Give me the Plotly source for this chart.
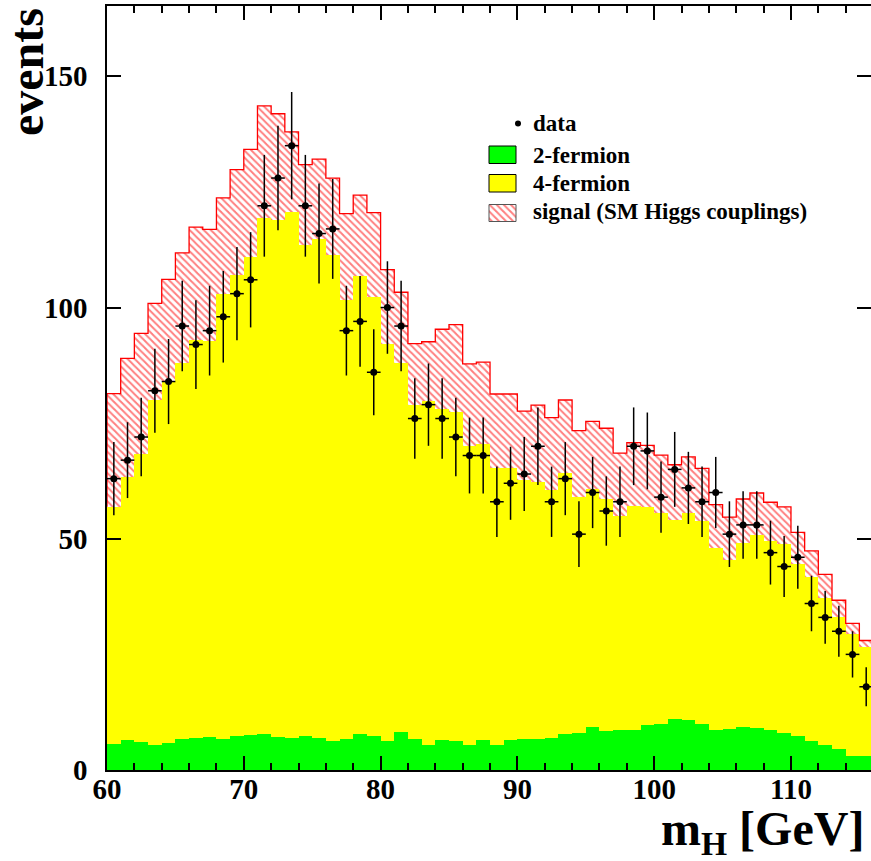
import numpy as np
import plotly.graph_objects as go

# ---------------- data ----------------
bin_low = list(range(60, 116))          # 1 GeV bins, lower edges [GeV]

two_fermion = [5.6, 6.5, 6.1, 5.4, 5.8, 6.7, 6.9, 7.1, 6.7, 7.3,
               7.6, 7.8, 7.1, 6.9, 7.3, 6.9, 6.3, 6.7, 7.8, 7.3,
               6.3, 8.2, 6.7, 5.5, 6.5, 6.3, 5.5, 6.5, 5.5, 6.5,
               6.7, 6.7, 6.9, 7.8, 8.0, 9.3, 8.4, 8.6, 8.6, 9.7,
               10.0, 11.1, 10.8, 9.9, 8.6, 8.9, 9.3, 9.1, 8.6, 8.0,
               7.3, 6.3, 5.4, 4.5, 3.0, 3.0]

# cumulative top of 2-fermion + 4-fermion
background_top = [56.9, 63.4, 68.3, 80.0, 83.9, 88.1, 93.0, 92.8, 103.0, 107.0,
                  111.0, 119.3, 118.9, 120.6, 113.5, 114.8, 111.3, 101.7, 106.8, 102.2,
                  92.2, 87.9, 79.0, 79.8, 78.0, 77.5, 70.0, 70.5, 65.4, 65.4,
                  62.7, 62.3, 60.5, 64.3, 59.1, 60.7, 58.7, 54.9, 57.1, 56.9,
                  55.5, 54.0, 55.5, 53.8, 48.1, 45.4, 49.0, 50.8, 49.6, 48.9,
                  44.5, 41.8, 37.3, 33.0, 29.5, 26.7]

# cumulative top of background + signal
total_top = [81.4, 89.0, 94.4, 100.9, 106.1, 111.8, 117.4, 116.9, 123.7, 129.8,
             134.2, 143.6, 141.9, 138.0, 130.9, 132.1, 128.0, 120.3, 124.3, 120.5,
             108.2, 103.3, 92.2, 92.6, 95.3, 96.3, 87.8, 88.2, 81.3, 81.3,
             77.6, 78.9, 76.2, 80.0, 73.4, 75.4, 73.9, 68.5, 70.8, 70.2,
             68.1, 66.0, 67.7, 65.2, 57.4, 54.7, 58.6, 59.9, 57.9, 56.9,
             51.4, 47.4, 42.3, 36.7, 31.7, 28.0]

data_events = [63, 67, 72, 82, 84, 96, 92, 95, 98, 103,
               106, 122, 128, 135, 122, 116, 117, 95, 97, 86,
               100, 96, 76, 79, 76, 72, 68, 68, 58, 62,
               64, 70, 58, 63, 51, 60, 56, 58, 70, 69,
               59, 65, 61, 58, 60, 51, 53, 53, 47, 44,
               46, 36, 33, 30, 25, 18]

data_err = [7.9, 8.2, 8.5, 9.1, 9.2, 9.8, 9.6, 9.7, 9.9, 10.1,
            10.3, 11.0, 11.3, 11.6, 11.0, 10.8, 10.8, 9.7, 9.8, 9.3,
            10.0, 9.8, 8.7, 8.9, 8.7, 8.5, 8.2, 8.2, 7.6, 7.9,
            8.0, 8.4, 7.6, 7.9, 7.1, 7.7, 7.5, 7.6, 8.4, 8.3,
            7.7, 8.1, 7.8, 7.6, 7.7, 7.1, 7.3, 7.3, 6.9, 6.6,
            6.8, 6.0, 5.7, 5.5, 5.0, 4.2]

x_tick_vals = [60, 70, 80, 90, 100, 110]
y_tick_vals = [0, 50, 100, 150]
legend_labels = ["data", "2-fermion", "4-fermion", "signal (SM Higgs couplings)"]

# ---------------- derived ----------------
lo = np.array(bin_low, dtype=float)
centers = lo + 0.5
two_f = np.array(two_fermion)
bkg = np.array(background_top)
tot = np.array(total_top)
four_f = bkg - two_f
signal = tot - bkg

GREEN = "#00ff00"
YELLOW = "#ffff00"
RED = "#ff0000"
FONT = "Liberation Serif"
HATCH = dict(shape="\\", fgcolor=RED, bgcolor="white", size=5, solidity=0.4)

# plot area in figure pixels
L, R, T, B = 107, 871, 6, 770
def px_to_paper(px, py):
    return (px - L) / (R - L), (B - py) / (B - T)

fig = go.Figure()

fig.add_trace(go.Bar(x=centers, y=two_f, width=1.0, base=0,
                     marker=dict(color=GREEN, line=dict(width=0)),
                     showlegend=False, hoverinfo="skip"))
fig.add_trace(go.Bar(x=centers, y=four_f, width=1.0, base=two_f,
                     marker=dict(color=YELLOW, line=dict(width=0)),
                     showlegend=False, hoverinfo="skip"))
fig.add_trace(go.Bar(x=centers, y=signal, width=1.0, base=bkg,
                     marker=dict(color="white", line=dict(width=0), pattern=HATCH),
                     showlegend=False, hoverinfo="skip"))

# red outline of the stacked signal histogram
edges = list(lo) + [lo[-1] + 1.0]
step_x = [edges[0]] + edges
step_y = [bkg[0]] + list(tot) + [tot[-1]]
fig.add_trace(go.Scatter(x=step_x, y=step_y, mode="lines",
                         line=dict(color=RED, width=1.3, shape="hv"),
                         showlegend=False, hoverinfo="skip"))

# data points
fig.add_trace(go.Scatter(x=centers, y=data_events, mode="markers",
                         marker=dict(color="black", size=7),
                         error_y=dict(type="data", array=data_err, color="black",
                                      thickness=1.5, width=0),
                         error_x=dict(type="constant", value=0.5, color="black",
                                      thickness=1.5, width=0),
                         showlegend=False, hoverinfo="skip"))

# dummy trace so the right-hand tick axis exists
fig.add_trace(go.Scatter(x=[None], y=[None], yaxis="y2", showlegend=False,
                         hoverinfo="skip"))

# ---------------- legend drawn in pixel space (overlay axes) ----------------
def box(x0, x1, y0, y1):
    return [x0, x1, x1, x0, x0], [y0, y0, y1, y1, y0]

bx, by = box(489, 516, 146, 163.5)
fig.add_trace(go.Scatter(x=bx, y=by, xaxis="x3", yaxis="y3", mode="lines",
                         fill="toself", fillcolor=GREEN,
                         line=dict(color="black", width=1),
                         showlegend=False, hoverinfo="skip"))
bx, by = box(489, 516, 174.5, 192)
fig.add_trace(go.Scatter(x=bx, y=by, xaxis="x3", yaxis="y3", mode="lines",
                         fill="toself", fillcolor=YELLOW,
                         line=dict(color="black", width=1),
                         showlegend=False, hoverinfo="skip"))
bx, by = box(489, 516, 204.5, 221.5)
fig.add_trace(go.Scatter(x=bx, y=by, xaxis="x3", yaxis="y3", mode="lines",
                         fill="toself", fillcolor="white", fillpattern=HATCH,
                         line=dict(color="#555555", width=1),
                         showlegend=False, hoverinfo="skip"))
fig.add_trace(go.Scatter(x=[518], y=[123.5], xaxis="x3", yaxis="y3", mode="markers",
                         marker=dict(color="black", size=6),
                         showlegend=False, hoverinfo="skip"))

legend_y = [123.5, 155.0, 183.5, 211.5]
annotations = []
for lab, yy in zip(legend_labels, legend_y):
    annotations.append(dict(text=lab, x=531, y=yy, xref="x3", yref="y3",
                            xanchor="left", yanchor="middle", showarrow=False,
                            font=dict(family=FONT, size=23, color="black", weight="bold")))

# axis titles (paper coordinates so they may sit outside the plot area)
ex, ey = px_to_paper(27, 72)
annotations.append(dict(text="events", x=ex, y=ey, xref="paper", yref="paper",
                        textangle=-90, xanchor="center", yanchor="middle",
                        showarrow=False,
                        font=dict(family=FONT, size=48, color="black", weight="bold")))
mx, my = px_to_paper(866, 864)
annotations.append(dict(text="m<sub>H</sub> [GeV]", x=mx, y=my, xref="paper", yref="paper",
                        xanchor="right", yanchor="bottom", showarrow=False,
                        font=dict(family=FONT, size=48, color="black", weight="bold")))

tickfont = dict(family=FONT, size=29, color="black", weight="bold")

fig.update_layout(
    width=871, height=861,
    margin=dict(l=L, r=871 - R, t=T, b=861 - B, pad=0),
    paper_bgcolor="white", plot_bgcolor="white",
    barmode="overlay", bargap=0,
    showlegend=False,
    font=dict(family=FONT, color="black"),
    annotations=annotations,
    xaxis=dict(range=[60, 115.85], showgrid=False, zeroline=False,
               showline=True, linecolor="black", linewidth=1.5, mirror="ticks",
               ticks="inside", ticklen=14, tickwidth=1.5, tickcolor="black",
               tickvals=x_tick_vals, tickfont=tickfont, ticklabelstandoff=-8,
               minor=dict(ticks="inside", ticklen=7, tickwidth=1.5, tickcolor="black",
                          tick0=60, dtick=2, showgrid=False)),
    yaxis=dict(range=[0, 165.2], showgrid=False, zeroline=False,
               showline=True, linecolor="black", linewidth=1.5, mirror=False,
               ticks="inside", ticklen=14, tickwidth=1.5, tickcolor="black",
               tickvals=y_tick_vals, tickfont=tickfont, ticklabelstandoff=12),
    yaxis2=dict(range=[0, 165.2], overlaying="y", side="right", showgrid=False,
                zeroline=False, showline=False, showticklabels=False,
                ticks="inside", ticklen=14, tickwidth=1.5, tickcolor="black",
                tickvals=y_tick_vals),
    xaxis3=dict(range=[L, R], overlaying="x", anchor="y3", visible=False),
    yaxis3=dict(range=[B, T], overlaying="y", anchor="x3", visible=False),
)

fig.write_html("out.html",
               config={"displayModeBar": False},
               post_script="document.body.style.margin='0';"
                           "document.body.style.overflow='hidden';")
